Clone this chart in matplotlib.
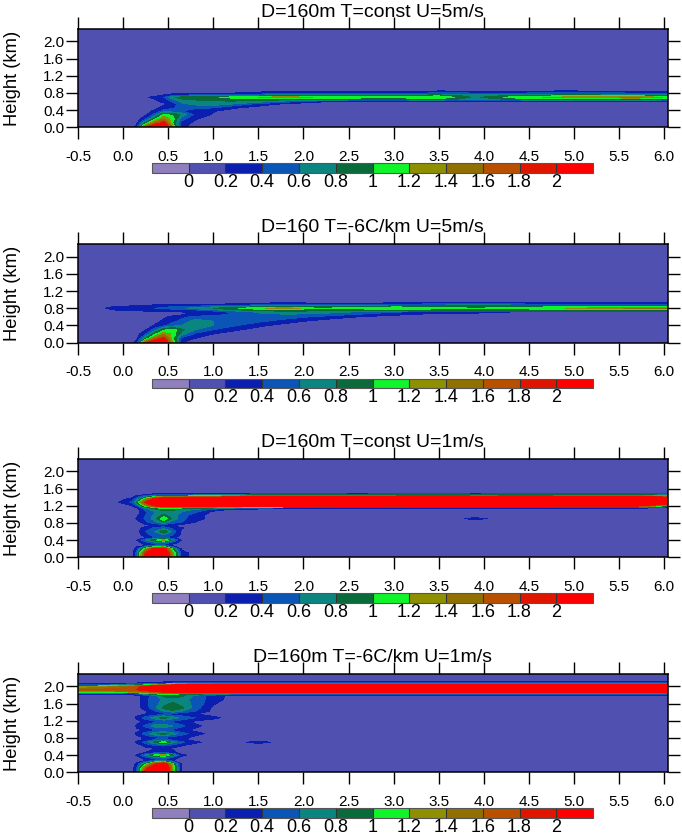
import numpy as np
import matplotlib
matplotlib.use('Agg')
import matplotlib.pyplot as plt

plt.rcParams['font.family'] = ['Liberation Sans', 'DejaVu Sans']

# distance columns shared by all four panels (km)
x_km = [-0.5, -0.3, -0.1, 0.1, 0.15, 0.25, 0.35, 0.45, 0.55, 0.65, 0.8, 1.0, 1.2, 1.5,
        1.8, 2.2, 2.6, 3.0, 3.5, 3.9, 4.4, 4.9, 5.7, 6.04]

levels = [0, 0.2, 0.4, 0.6, 0.8, 1.0, 1.2, 1.4, 1.6, 1.8, 2.0]
level_labels = ['0', '0.2', '0.4', '0.6', '0.8', '1', '1.2', '1.4', '1.6', '1.8', '2']
colors = ['#8f7fbd', '#5050b0', '#0a1fb0', '#0a55b5', '#0a8580', '#0a6b3a',
          '#10f52a', '#8f9000', '#8f7000', '#b85000', '#e01500', '#ff0000']

titles = ['D=160m T=const U=5m/s', 'D=160 T=-6C/km U=5m/s',
          'D=160m T=const U=1m/s', 'D=160m T=-6C/km U=1m/s']

# panel 1, values
z1 = [0, 0.1, 0.2, 0.3, 0.38, 0.46, 0.54, 0.6, 0.66, 0.7, 0.74, 0.78, 0.82, 0.86, 0.9, 2.3]
f1 = [
    [.1, .1, .1, .1, .35, 1.75, 2.6, 2.6, 1.3, .25, .1, .1, .1, .1, .1, .1, .1, .1, .1, .1, .1, .1, .1, .1],
    [.1, .1, .1, .1, .14, .9, 1.5, 2.0, 1.0, .3, .15, .1, .1, .1, .1, .1, .1, .1, .1, .1, .1, .1, .1, .1],
    [.1, .1, .1, .1, .1, .35, .9, 1.4, 1.1, .5, .22, .1, .1, .1, .1, .1, .1, .1, .1, .1, .1, .1, .1, .1],
    [.1, .1, .1, .1, .1, .15, .45, 1.05, .95, .75, .35, .18, .1, .1, .1, .1, .1, .1, .1, .1, .1, .1, .1, .1],
    [.1, .1, .1, .1, .1, .1, .25, .45, .45, .4, .3, .22, .12, .1, .1, .1, .1, .1, .1, .1, .1, .1, .1, .1],
    [.1, .1, .1, .1, .1, .1, .12, .28, .38, .45, .45, .42, .25, .12, .1, .1, .1, .1, .1, .1, .1, .1, .1, .1],
    [.1, .1, .1, .1, .1, .1, .1, .15, .3, .55, .65, .7, .6, .32, .15, .1, .1, .1, .1, .1, .1, .1, .1, .1],
    [.1, .1, .1, .1, .1, .1, .15, .25, .42, .65, .72, .78, .78, .7, .5, .22, .16, .15, .15, .16, .15, .15, .14, .14],
    [.1, .1, .1, .1, .1, .1, .2, .3, .6, .8, .85, .85, .9, .95, .95, .9, .88, .88, .95, .7, .9, 1.0, .95, .9],
    [.1, .1, .1, .1, .1, .15, .3, .4, .75, .9, .95, .95, 1.1, 1.2, 1.35, 1.15, 1.1, 1.05, 1.2, .75, 1.15, 1.25, 1.45, 1.15],
    [.1, .1, .1, .1, .1, .1, .1, .25, .4, .45, .5, .5, .55, .65, .85, .85, .8, .85, .95, .7, .85, .95, .9, .85],
    [.1, .1, .1, .1, .1, .1, .1, .12, .2, .22, .25, .22, .25, .35, .5, .48, .42, .42, .55, .5, .5, .55, .5, .48],
    [.1, .1, .1, .1, .1, .1, .1, .1, .1, .1, .1, .1, .12, .2, .28, .25, .22, .22, .3, .28, .28, .3, .28, .28],
    [.1, .1, .1, .1, .1, .1, .1, .1, .1, .1, .1, .1, .1, .1, .14, .12, .1, .1, .15, .13, .14, .15, .13, .14],
    [.1] * 24,
    [.1] * 24,
]

# panel 2
z2 = [0, 0.1, 0.2, 0.3, 0.4, 0.5, 0.6, 0.66, 0.72, 0.76, 0.8, 0.84, 0.88, 0.92, 0.96, 2.3]
f2 = [
    [.1, .1, .1, .1, .35, 1.7, 2.5, 2.5, 1.2, .2, .1, .1, .1, .1, .1, .1, .1, .1, .1, .1, .1, .1, .1, .1],
    [.1, .1, .1, .1, .14, .8, 1.45, 1.9, 1.05, .35, .2, .1, .1, .1, .1, .1, .1, .1, .1, .1, .1, .1, .1, .1],
    [.1, .1, .1, .1, .1, .4, .95, 1.35, 1.15, .7, .35, .2, .12, .1, .1, .1, .1, .1, .1, .1, .1, .1, .1, .1],
    [.1, .1, .1, .1, .1, .18, .5, .95, 1.1, .85, .6, .4, .25, .12, .1, .1, .1, .1, .1, .1, .1, .1, .1, .1],
    [.1, .1, .1, .1, .1, .1, .22, .35, .5, .6, .7, .6, .45, .25, .12, .1, .1, .1, .1, .1, .1, .1, .1, .1],
    [.1, .1, .1, .1, .1, .1, .1, .25, .35, .45, .7, .6, .5, .45, .3, .12, .1, .1, .1, .1, .1, .1, .1, .1],
    [.1, .1, .1, .1, .1, .1, .1, .15, .25, .35, .45, .5, .5, .55, .5, .35, .2, .12, .1, .1, .1, .1, .1, .1],
    [.1, .1, .1, .1, .1, .1, .1, .1, .1, .15, .25, .3, .4, .55, .6, .55, .4, .25, .15, .12, .1, .1, .1, .1],
    [.1, .1, .12, .15, .15, .18, .18, .18, .18, .2, .25, .3, .45, .65, .75, .7, .6, .45, .3, .3, .2, .2, .2, .2],
    [.1, .1, .2, .22, .22, .25, .25, .28, .3, .3, .4, .55, .75, .9, .95, .9, .85, .9, .85, .85, .85, .85, .85, .85],
    [.1, .1, .3, .35, .35, .4, .4, .45, .5, .55, .7, .8, .95, 1.15, 1.35, 1.0, 1.1, 1.15, 1.1, 1.0, 1.1, 1.2, 1.45, 1.4],
    [.1, .1, .2, .25, .25, .28, .3, .35, .4, .4, .45, .55, .6, .75, .85, .85, .9, .95, .95, 1.0, .95, .95, .95, .95],
    [.1, .1, .1, .12, .12, .15, .2, .22, .22, .22, .22, .25, .3, .4, .5, .45, .45, .5, .55, .6, .55, .5, .5, .5],
    [.1, .1, .1, .1, .1, .1, .1, .1, .1, .1, .1, .1, .12, .18, .25, .18, .18, .22, .28, .3, .25, .22, .22, .25],
    [.1] * 24,
    [.1] * 24,
]

# panel 3
z3 = [0, 0.1, 0.2, 0.28, 0.34, 0.4, 0.46, 0.52, 0.6, 0.68, 0.74, 0.82, 0.9, 0.98, 1.06, 1.12,
      1.16, 1.2, 1.28, 1.36, 1.42, 1.46, 1.5, 2.3]
f3 = [
    [.1, .1, .1, .1, .5, 2.0, 2.6, 2.6, 1.4, .3, .1, .1, .1, .1, .1, .1, .1, .1, .1, .1, .1, .1, .1, .1],
    [.1, .1, .1, .1, .5, 1.9, 2.6, 2.6, 1.3, .3, .1, .1, .1, .1, .1, .1, .1, .1, .1, .1, .1, .1, .1, .1],
    [.1, .1, .1, .1, .3, 1.2, 2.0, 2.1, .9, .15, .1, .1, .1, .1, .1, .1, .1, .1, .1, .1, .1, .1, .1, .1],
    [.1, .1, .1, .1, .1, .2, .3, .35, .12, .1, .1, .1, .1, .1, .1, .1, .1, .1, .1, .1, .1, .1, .1, .1],
    [.1, .1, .1, .1, .1, .3, .5, .6, .3, .1, .1, .1, .1, .1, .1, .1, .1, .1, .1, .1, .1, .1, .1, .1],
    [.1, .1, .1, .1, .2, .6, .95, 1.3, .7, .18, .1, .1, .1, .1, .1, .1, .1, .1, .1, .1, .1, .1, .1, .1],
    [.1, .1, .1, .1, .1, .2, .35, .45, .25, .1, .1, .1, .1, .1, .1, .1, .1, .1, .1, .1, .1, .1, .1, .1],
    [.1, .1, .1, .1, .1, .3, .5, .6, .4, .15, .1, .1, .1, .1, .1, .1, .1, .1, .1, .1, .1, .1, .1, .1],
    [.1, .1, .1, .1, .1, .4, .6, 1.0, .55, .15, .1, .1, .1, .1, .1, .1, .1, .1, .1, .1, .1, .1, .1, .1],
    [.1, .1, .1, .1, .1, .3, .45, .55, .35, .22, .1, .1, .1, .1, .1, .1, .1, .1, .1, .1, .1, .1, .1, .1],
    [.1, .1, .1, .1, .1, .15, .22, .25, .2, .12, .1, .1, .1, .1, .1, .1, .1, .1, .1, .1, .1, .1, .1, .1],
    [.1, .1, .1, .1, .1, .35, .55, .8, .5, .4, .2, .1, .1, .1, .1, .1, .1, .1, .1, .1, .1, .1, .1, .1],
    [.1, .1, .1, .1, .22, .45, .7, 1.2, .75, .45, .3, .1, .1, .1, .1, .1, .1, .1, .1, .24, .1, .1, .1, .1],
    [.1, .1, .1, .1, .15, .4, .65, .85, .7, .5, .3, .1, .1, .1, .1, .1, .1, .1, .1, .1, .1, .1, .1, .1],
    [.1, .1, .1, .1, .1, .35, .6, .7, .75, .6, .45, .15, .1, .1, .1, .1, .1, .1, .1, .1, .1, .1, .1, .1],
    [.1, .1, .1, .1, .1, .5, .75, .95, .85, .75, .6, .35, .2, .14, .14, .15, .12, .15, .12, .15, .14, .14, .12, .1],
    [.1, .1, .1, .1, .22, .7, 1.0, 1.2, 1.2, 1.1, 1.05, 1.0, .8, .6, .45, .4, .4, .45, .35, .45, .4, .4, .35, .12],
    [.1, .1, .1, .2, .4, 1.2, 1.9, 2.3, 2.5, 2.5, 2.5, 2.5, 2.4, 2.3, 2.3, 2.2, 2.3, 2.2, 2.3, 2.3, 2.3, 2.2, 2.1, 1.0],
    [.1, .1, .12, .45, .8, 1.9, 2.6, 3, 3, 3, 3, 3, 3, 3, 3, 3, 3, 3, 3, 3, 3, 3, 3, 2.6],
    [.1, .1, .1, .25, .5, 1.2, 2.0, 2.6, 2.8, 3, 3, 3, 3, 3, 3, 3, 3, 3, 3, 3, 3, 3, 3, 2.6],
    [.1, .1, .1, .12, .25, .6, .9, 1.1, 1.1, 1.1, 1.2, 1.3, 1.5, 2.0, 2.1, 2.1, 2.1, 2.1, 2.2, 2.1, 2.1, 2.1, 2.0, 1.4],
    [.1, .1, .1, .1, .12, .2, .3, .4, .4, .4, .45, .5, .5, .6, .6, .6, .55, .6, .65, .55, .65, .6, .6, .6],
    [.1, .1, .1, .1, .1, .1, .1, .1, .1, .1, .1, .1, .12, .12, .12, .12, .12, .12, .14, .12, .14, .12, .12, .14],
    [.1] * 24,
]

# panel 4
z4 = [0, 0.1, 0.2, 0.28, 0.34, 0.4, 0.46, 0.56, 0.64, 0.7, 0.76, 0.82, 0.9, 0.98, 1.08, 1.18,
      1.27, 1.36, 1.42, 1.5, 1.6, 1.7, 1.78, 1.82, 1.86, 1.92, 2.0, 2.04, 2.08, 2.12, 2.16, 2.3]
f4 = [
    [.1, .1, .1, .1, .4, 2.1, 3, 3, 1.3, .2, .1, .1, .1, .1, .1, .1, .1, .1, .1, .1, .1, .1, .1, .1],
    [.1, .1, .1, .1, .4, 1.6, 2.6, 3, 1.2, .2, .1, .1, .1, .1, .1, .1, .1, .1, .1, .1, .1, .1, .1, .1],
    [.1, .1, .1, .1, .25, .9, 1.7, 2.2, 1.1, .15, .1, .1, .1, .1, .1, .1, .1, .1, .1, .1, .1, .1, .1, .1],
    [.1, .1, .1, .1, .1, .18, .3, .35, .2, .1, .1, .1, .1, .1, .1, .1, .1, .1, .1, .1, .1, .1, .1, .1],
    [.1, .1, .1, .1, .1, .35, .5, .6, .35, .12, .1, .1, .1, .1, .1, .1, .1, .1, .1, .1, .1, .1, .1, .1],
    [.1, .1, .1, .1, .22, .65, 1.05, 1.35, .85, .25, .1, .1, .1, .1, .1, .1, .1, .1, .1, .1, .1, .1, .1, .1],
    [.1, .1, .1, .1, .1, .2, .3, .35, .25, .1, .1, .1, .1, .1, .1, .1, .1, .1, .1, .1, .1, .1, .1, .1],
    [.1, .1, .1, .1, .1, .15, .2, .22, .18, .1, .1, .1, .1, .1, .1, .1, .1, .1, .1, .1, .1, .1, .1, .1],
    [.1, .1, .1, .1, .12, .3, .45, .5, .4, .25, .12, .1, .1, .1, .1, .1, .1, .1, .1, .1, .1, .1, .1, .1],
    [.1, .1, .1, .1, .25, .5, .85, 1.15, .7, .45, .25, .1, .1, .28, .1, .1, .1, .1, .1, .1, .1, .1, .1, .1],
    [.1, .1, .1, .1, .12, .25, .4, .45, .35, .25, .12, .1, .1, .1, .1, .1, .1, .1, .1, .1, .1, .1, .1, .1],
    [.1, .1, .1, .1, .12, .28, .38, .42, .35, .28, .15, .1, .1, .1, .1, .1, .1, .1, .1, .1, .1, .1, .1, .1],
    [.1, .1, .1, .1, .25, .5, .75, .9, .7, .5, .3, .1, .1, .1, .1, .1, .1, .1, .1, .1, .1, .1, .1, .1],
    [.1, .1, .1, .1, .14, .25, .35, .4, .35, .25, .15, .1, .1, .1, .1, .1, .1, .1, .1, .1, .1, .1, .1, .1],
    [.1, .1, .1, .1, .25, .45, .7, .75, .6, .45, .25, .1, .1, .1, .1, .1, .1, .1, .1, .1, .1, .1, .1, .1],
    [.1, .1, .1, .1, .12, .25, .35, .4, .35, .28, .15, .1, .1, .1, .1, .1, .1, .1, .1, .1, .1, .1, .1, .1],
    [.1, .1, .1, .1, .25, .5, .7, .9, .7, .55, .4, .25, .12, .1, .1, .1, .1, .1, .1, .1, .1, .1, .1, .1],
    [.1, .1, .1, .1, .12, .2, .25, .3, .28, .25, .2, .12, .1, .1, .1, .1, .1, .1, .1, .1, .1, .1, .1, .1],
    [.1, .1, .1, .1, .1, .18, .35, .6, .75, .6, .4, .15, .1, .1, .1, .1, .1, .1, .1, .1, .1, .1, .1, .1],
    [.1, .1, .1, .1, .1, .3, .55, .85, .95, .85, .5, .15, .1, .1, .1, .1, .1, .1, .1, .1, .1, .1, .1, .1],
    [.1, .1, .1, .1, .1, .35, .5, .7, .85, .7, .55, .22, .1, .1, .1, .1, .1, .1, .1, .1, .1, .1, .1, .1],
    [.1, .1, .1, .1, .1, .35, .5, .65, .7, .65, .55, .28, .14, .1, .1, .1, .1, .1, .1, .1, .1, .1, .1, .1],
    [.1, .1, .1, .1, .1, .3, .5, .85, .95, .85, .55, .28, .15, .1, .1, .1, .1, .1, .1, .1, .1, .1, .1, .1],
    [.28, .28, .28, .25, .35, .6, .9, 1.05, .95, .85, .7, .55, .4, .3, .3, .3, .3, .3, .3, .3, .3, .3, .3, .3],
    [1.0, 1.0, 1.0, 1.1, 1.2, 1.4, 1.55, 1.7, 1.9, 2.1, 2.3, 2.3, 2.3, 2.4, 2.4, 2.4, 2.4, 2.4, 2.4, 2.4, 2.4, 2.4, 2.4, 2.4],
    [1.7, 1.7, 1.7, 1.8, 1.8, 2.0, 2.3, 2.6, 3, 3, 3, 3, 3, 3, 3, 3, 3, 3, 3, 3, 3, 3, 3, 3],
    [1.1, 1.2, 1.4, 1.6, 1.7, 2.0, 2.3, 2.5, 2.6, 3, 3, 3, 3, 3, 3, 3, 3, 3, 3, 3, 3, 3, 3, 3],
    [.3, .35, .5, .6, .7, .9, 1.1, 1.4, 1.7, 2.0, 2.2, 2.4, 2.6, 2.6, 2.6, 2.6, 2.6, 2.6, 2.6, 2.6, 2.6, 2.6, 2.6, 2.6],
    [.1, .12, .15, .2, .2, .25, .3, .35, .4, .5, .5, .55, .6, .6, .6, .5, .5, .5, .5, .5, .5, .5, .5, .5],
    [.1, .1, .1, .1, .1, .1, .1, .1, .1, .1, .1, .1, .22, .12, .22, .12, .12, .12, .12, .12, .12, .12, .12, .12],
    [.1] * 24,
    [.1] * 24,
]

heights = [z1, z2, z3, z4]
fields = [f1, f2, f3, f4]
# top edge of each panel's plot area, pixels from the top of the image
panel_tops = [29, 244.3, 459, 674]

W, H = 682, 836
fig = plt.figure(figsize=(W / 100, H / 100), dpi=100)

for i in range(4):
    top = panel_tops[i]
    ax = fig.add_axes([78 / W, 1 - (top + 98.3) / H, 589.7 / W, 98.3 / H])
    cf = ax.contourf(x_km, heights[i], np.array(fields[i]), levels=levels, colors=colors[1:-1],
                     extend='both')
    cf.cmap.set_under(colors[0])
    cf.cmap.set_over(colors[-1])
    cf.changed()
    ax.set_xlim(-0.5, 6.04)
    ax.set_ylim(0, 2.29)
    ax.set_xticks(np.arange(-0.5, 6.5, 0.5))
    ax.set_xticklabels(['%.1f' % v for v in np.arange(-0.5, 6.5, 0.5)])
    ax.set_yticks([0, 0.4, 0.8, 1.2, 1.6, 2.0])
    ax.set_yticklabels(['0.0', '0.4', '0.8', '1.2', '1.6', '2.0'])
    ax.tick_params(axis='x', direction='out', top=True, length=8.6, width=1.0, pad=7.5, labelsize=11)
    ax.tick_params(axis='y', direction='out', right=True, length=8.4, width=1.0, pad=1.5, labelsize=11)
    ax.set_ylabel('Height (km)', fontsize=13.2)
    ax.yaxis.set_label_coords(-57 / 589.7, 0.5)
    for s in ax.spines.values():
        s.set_linewidth(1.1)
    ax.set_title(titles[i], fontsize=14, pad=8.6, x=(372.8 - 78) / 589.7)

    # colour bar: 9.4 px tall, its lower edge 143.7 px below the panel top
    cax = fig.add_axes([152 / W, 1 - (top + 143.7) / H, 441 / W, 9.4 / H])
    cb = fig.colorbar(cf, cax=cax, orientation='horizontal', ticks=levels, extendrect=True,
                      extendfrac=0.1, drawedges=True, spacing='uniform')
    cb.ax.set_xticklabels(level_labels)
    cb.ax.tick_params(length=0, pad=1.0, labelsize=13)
    cb.dividers.set_color('#333333')
    cb.dividers.set_linewidth(0.8)
    cb.outline.set_edgecolor('#555555')
    cb.outline.set_linewidth(0.8)

fig.savefig('out.png', dpi=100)
